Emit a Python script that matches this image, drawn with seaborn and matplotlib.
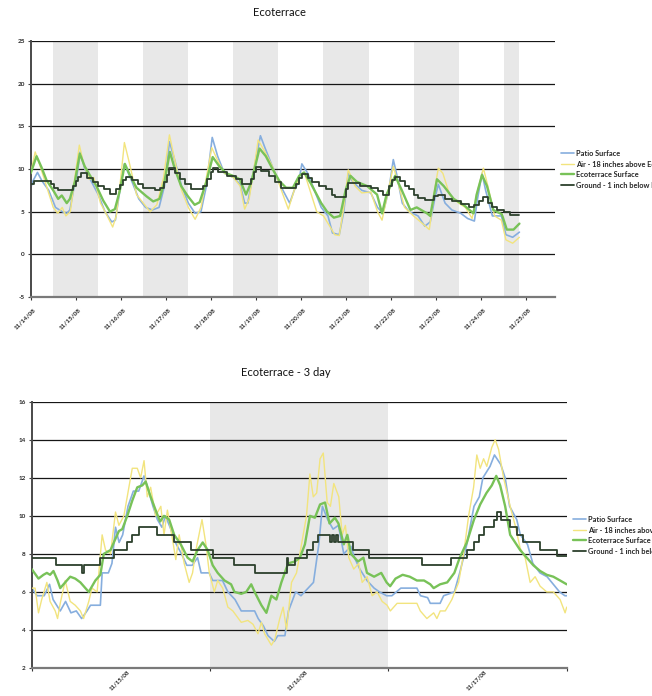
import matplotlib
matplotlib.use("Agg")
import matplotlib.pyplot as plt
import matplotlib.transforms as mtransforms
from matplotlib.lines import Line2D
import seaborn as sns
import pandas as pd

# ---------------------------------------------------------------- data
# Top chart: time in days from the 11/14/08 tick, temperature in deg C
top_patio = [(0, 7.8), (.05, 8.6), (.15, 9.6), (.25, 8.6), (.4, 7.5), (.55, 5.5), (.7, 5.0), (.8, 4.8),
             (.87, 5.2), (.95, 7.5), (1.02, 9.0), (1.1, 12.0), (1.2, 10.0), (1.35, 8.5), (1.5, 7.0),
             (1.65, 5.0), (1.8, 3.8), (1.88, 4.0), (1.98, 7.5), (2.08, 10.6), (2.25, 8.5), (2.4, 6.5),
             (2.55, 5.5), (2.7, 5.2), (2.85, 5.5), (2.97, 8.0), (3.08, 13.2), (3.2, 11.0), (3.35, 8.0),
             (3.5, 6.0), (3.65, 4.8), (3.78, 5.0), (3.9, 8.0), (4.03, 13.7), (4.15, 11.5), (4.3, 9.5),
             (4.5, 9.0), (4.65, 8.2), (4.75, 6.0), (4.82, 6.0), (4.92, 9.0), (5.1, 13.9), (5.2, 12.5),
             (5.35, 10.5), (5.5, 8.5), (5.65, 7.0), (5.75, 6.0), (5.85, 7.5), (5.95, 8.5), (6.02, 10.6),
             (6.15, 9.5), (6.3, 7.5), (6.45, 5.5), (6.6, 4.5), (6.7, 2.5), (6.85, 2.3), (6.95, 5.0),
             (7.05, 9.5), (7.15, 8.5), (7.35, 7.5), (7.55, 7.2), (7.7, 5.5), (7.82, 4.8), (7.95, 7.5),
             (8.05, 11.1), (8.12, 9.5), (8.25, 6.0), (8.4, 5.0), (8.6, 4.5), (8.75, 3.3), (8.87, 3.8),
             (8.97, 6.5), (9.05, 8.2), (9.2, 6.0), (9.35, 5.2), (9.55, 4.8), (9.7, 4.2), (9.85, 3.9),
             (9.92, 6.5), (10.02, 9.5), (10.1, 7.5), (10.25, 4.5), (10.45, 4.5), (10.55, 2.3),
             (10.7, 2.0), (10.85, 2.6)]

top_air = [(0, 9.5), (.1, 12.0), (.2, 10.5), (.35, 8.0), (.5, 5.5), (.6, 4.8), (.7, 5.5), (.78, 4.5),
           (.88, 5.0), (.98, 9.0), (1.08, 12.8), (1.18, 10.5), (1.3, 8.8), (1.4, 9.0), (1.55, 6.0),
           (1.7, 4.5), (1.82, 3.2), (1.9, 4.5), (2.0, 9.0), (2.08, 13.1), (2.2, 10.5), (2.35, 7.0),
           (2.5, 6.0), (2.65, 5.0), (2.8, 5.8), (2.95, 9.0), (3.08, 14.0), (3.2, 11.0), (3.35, 7.5),
           (3.5, 5.5), (3.65, 4.1), (3.78, 5.5), (3.9, 9.0), (4.02, 12.5), (4.15, 11.0), (4.3, 9.5),
           (4.5, 9.0), (4.65, 8.0), (4.75, 5.3), (4.85, 6.5), (4.97, 10.5), (5.05, 13.4), (5.2, 12.0),
           (5.35, 10.5), (5.5, 8.5), (5.6, 7.0), (5.72, 5.3), (5.85, 7.5), (5.98, 9.3), (6.08, 9.5),
           (6.2, 7.5), (6.35, 5.0), (6.5, 4.5), (6.65, 3.2), (6.75, 2.3), (6.85, 2.2), (6.95, 5.5),
           (7.05, 9.9), (7.2, 8.0), (7.35, 7.2), (7.55, 7.3), (7.7, 5.0), (7.8, 4.0), (7.92, 7.0),
           (8.05, 10.3), (8.15, 8.5), (8.3, 5.5), (8.5, 4.5), (8.7, 3.6), (8.85, 2.9), (8.98, 8.0),
           (9.05, 10.1), (9.15, 9.5), (9.3, 7.0), (9.5, 6.0), (9.65, 5.5), (9.8, 4.2), (9.9, 7.0),
           (10.05, 10.1), (10.15, 8.0), (10.3, 4.5), (10.45, 4.0), (10.55, 1.7), (10.7, 1.3),
           (10.85, 2.0)]

top_eco = [(0, 9.5), (.13, 11.5), (.24, 10.2), (.35, 8.7), (.5, 7.5), (.61, 6.5), (.69, 6.9), (.8, 6.0),
           (.87, 6.5), (.98, 8.5), (1.09, 11.8), (1.2, 10.3), (1.31, 9.3), (1.46, 8.0), (1.61, 6.3),
           (1.76, 5.0), (1.87, 5.3), (1.98, 7.5), (2.09, 10.6), (2.2, 9.3), (2.35, 7.8), (2.57, 6.8),
           (2.72, 6.2), (2.86, 6.5), (2.97, 8.5), (3.09, 12.0), (3.2, 10.0), (3.34, 8.0), (3.49, 6.8),
           (3.64, 5.8), (3.75, 6.1), (3.9, 8.5), (4.04, 11.4), (4.19, 10.3), (4.34, 9.5), (4.49, 9.2),
           (4.64, 8.8), (4.78, 7.0), (4.9, 8.5), (5.08, 12.4), (5.22, 11.5), (5.37, 10.0), (5.52, 8.6),
           (5.67, 7.8), (5.82, 7.8), (5.96, 9.2), (6.07, 9.6), (6.22, 8.3), (6.37, 6.8), (6.45, 6.0),
           (6.58, 5.0), (6.73, 4.3), (6.87, 4.5), (6.99, 7.5), (7.1, 9.2), (7.24, 8.5), (7.47, 8.0),
           (7.69, 7.0), (7.8, 4.8), (7.9, 7.0), (8.09, 9.2), (8.24, 7.5), (8.43, 5.2), (8.57, 5.5),
           (8.8, 4.8), (8.87, 4.5), (9.02, 8.8), (9.17, 8.0), (9.39, 6.5), (9.61, 5.8), (9.83, 4.8),
           (9.9, 7.0), (10.02, 9.3), (10.13, 8.0), (10.27, 5.2), (10.46, 4.7), (10.57, 2.9),
           (10.72, 2.9), (10.85, 3.6)]

top_ground = [(0, 8.2), (.08, 8.6), (.45, 8.3), (.52, 7.8), (.6, 7.5), (.95, 8.0), (1.0, 8.6), (1.05, 9.1),
              (1.12, 9.5), (1.25, 9.0), (1.38, 8.5), (1.5, 8.0), (1.62, 7.6), (1.75, 7.1), (1.9, 7.6),
              (1.98, 8.1), (2.05, 8.7), (2.12, 9.1), (2.25, 8.7), (2.38, 8.2), (2.5, 7.8), (2.75, 7.5),
              (2.88, 7.8), (2.95, 8.5), (3.02, 9.3), (3.08, 10.1), (3.2, 9.5), (3.32, 8.8), (3.42, 8.2),
              (3.55, 7.6), (3.82, 8.0), (3.92, 8.8), (4.0, 9.6), (4.05, 10.1), (4.15, 9.6), (4.35, 9.2),
              (4.55, 8.8), (4.7, 8.3), (4.88, 8.8), (4.95, 9.6), (5.0, 10.2), (5.12, 9.8), (5.3, 9.2),
              (5.42, 8.5), (5.55, 7.8), (5.88, 8.3), (5.95, 9.0), (6.02, 9.4), (6.15, 9.0), (6.25, 8.5),
              (6.4, 8.0), (6.55, 7.6), (6.68, 7.0), (6.75, 6.7), (7.0, 7.6), (7.05, 8.4), (7.3, 8.0),
              (7.55, 7.8), (7.7, 7.4), (7.82, 7.0), (7.95, 8.0), (8.02, 8.7), (8.08, 9.1), (8.2, 8.6),
              (8.3, 8.0), (8.4, 7.6), (8.5, 7.0), (8.6, 6.6), (8.75, 6.4), (8.95, 6.8), (9.05, 7.0),
              (9.2, 6.5), (9.35, 6.2), (9.55, 5.9), (9.72, 5.6), (9.85, 5.8), (9.95, 6.3), (10.05, 6.7),
              (10.15, 6.0), (10.25, 5.5), (10.35, 5.2), (10.5, 5.0), (10.65, 4.6), (10.85, 4.6)]

top_dates = ["11/14/08", "11/15/08", "11/16/08", "11/17/08", "11/18/08", "11/19/08",
             "11/20/08", "11/21/08", "11/22/08", "11/23/08", "11/24/08", "11/25/08"]
top_night = [(0.5, 1.5), (2.5, 3.5), (4.5, 5.5), (6.5, 7.5), (8.5, 9.5), (10.5, 10.85)]

# Bottom chart: three days starting 11/15/08
day_patio = [(0, 6.2), (.03, 5.8), (.07, 5.8), (.10, 6.4), (.12, 5.6), (.16, 5.0), (.19, 5.5), (.22, 4.9),
             (.25, 5.0), (.28, 4.6), (.31, 5.0), (.33, 5.3), (.385, 5.3), (.395, 7.0), (.43, 7.0),
             (.45, 7.5), (.47, 9.4), (.49, 8.6), (.51, 9.0), (.54, 10.5), (.57, 11.3), (.60, 11.3),
             (.63, 12.1), (.65, 11.5), (.68, 10.5), (.705, 9.8), (.73, 9.4), (.75, 10.0), (.78, 9.3),
             (.80, 8.7), (.84, 8.0), (.87, 7.4), (.90, 7.4), (.93, 7.8), (.95, 7.0), (.995, 7.0),
             (1.015, 6.6), (1.07, 6.6), (1.10, 6.0), (1.14, 5.6), (1.175, 5.0), (1.25, 5.0), (1.27, 4.6),
             (1.30, 4.2), (1.325, 3.7), (1.36, 3.4), (1.38, 3.7), (1.42, 3.7), (1.44, 5.0), (1.48, 6.0),
             (1.51, 5.8), (1.55, 6.2), (1.58, 6.5), (1.61, 8.5), (1.63, 10.5), (1.66, 9.8), (1.69, 9.3),
             (1.72, 9.5), (1.75, 8.0), (1.79, 8.4), (1.81, 7.8), (1.84, 7.2), (1.88, 6.6), (1.92, 6.2),
             (1.95, 6.0), (1.99, 5.8), (2.02, 5.8), (2.07, 6.2), (2.16, 6.2), (2.18, 5.8), (2.22, 5.7),
             (2.235, 5.4), (2.29, 5.4), (2.31, 5.8), (2.37, 6.0), (2.40, 7.0), (2.44, 8.5), (2.48, 10.5),
             (2.51, 11.0), (2.53, 12.0), (2.57, 12.6), (2.595, 13.2), (2.63, 12.7), (2.655, 12.0),
             (2.68, 10.5), (2.72, 9.8), (2.74, 9.0), (2.78, 8.5), (2.81, 7.5), (2.85, 7.0), (2.89, 6.8),
             (2.925, 6.4), (2.96, 6.0), (2.99, 5.8), (3.0, 5.8)]

day_air = [(0, 6.2), (.019, 6.2), (.038, 4.9), (.056, 5.6), (.085, 6.5), (.103, 5.5), (.132, 5.0),
           (.145, 4.6), (.16, 5.4), (.188, 6.6), (.216, 5.5), (.244, 5.3), (.273, 5.0), (.291, 4.6),
           (.32, 5.5), (.338, 6.2), (.367, 6.0), (.395, 9.0), (.414, 8.2), (.442, 8.0), (.47, 10.2),
           (.489, 9.5), (.517, 10.0), (.545, 11.5), (.564, 12.5), (.592, 12.5), (.611, 12.0), (.63, 12.9),
           (.648, 11.0), (.667, 11.5), (.695, 10.0), (.724, 10.5), (.742, 9.0), (.761, 10.3), (.789, 8.8),
           (.808, 7.7), (.827, 9.0), (.855, 7.5), (.883, 6.5), (.902, 7.0), (.921, 8.2), (.955, 9.8),
           (.977, 8.5), (.996, 7.0), (1.024, 6.0), (1.043, 6.6), (1.071, 6.2), (1.1, 5.2), (1.128, 5.0),
           (1.175, 4.4), (1.212, 4.5), (1.241, 4.3), (1.269, 3.8), (1.288, 4.4), (1.306, 3.8),
           (1.344, 3.2), (1.363, 3.5), (1.391, 4.6), (1.41, 5.2), (1.429, 4.0), (1.457, 6.5),
           (1.485, 7.0), (1.513, 8.5), (1.541, 10.0), (1.56, 12.2), (1.579, 11.0), (1.598, 11.2),
           (1.617, 13.0), (1.635, 13.3), (1.657, 10.7), (1.675, 10.5), (1.694, 11.7), (1.722, 11.0),
           (1.741, 9.0), (1.759, 9.5), (1.778, 7.8), (1.806, 7.2), (1.834, 7.5), (1.853, 6.5),
           (1.881, 6.8), (1.909, 5.8), (1.937, 6.0), (1.965, 5.5), (1.993, 5.3), (2.011, 5.0),
           (2.049, 5.4), (2.16, 5.4), (2.179, 5.0), (2.216, 4.6), (2.254, 4.9), (2.272, 4.6),
           (2.291, 5.0), (2.319, 5.0), (2.356, 5.6), (2.394, 6.5), (2.422, 8.0), (2.45, 10.0),
           (2.478, 11.5), (2.496, 13.2), (2.515, 12.5), (2.534, 13.0), (2.552, 12.6), (2.58, 13.6),
           (2.599, 14.0), (2.618, 13.5), (2.646, 12.0), (2.683, 10.5), (2.711, 9.5), (2.739, 8.3),
           (2.767, 7.8), (2.795, 6.5), (2.823, 6.8), (2.851, 6.3), (2.888, 6.0), (2.925, 6.0),
           (2.963, 5.6), (2.991, 4.9), (3.0, 5.2)]

day_eco = [(0, 7.2), (.038, 6.7), (.066, 6.9), (.085, 7.0), (.103, 6.9), (.122, 7.1), (.145, 6.6),
           (.16, 6.2), (.197, 6.6), (.216, 6.8), (.244, 6.7), (.273, 6.5), (.301, 6.2), (.32, 6.0),
           (.357, 6.6), (.385, 6.9), (.404, 8.0), (.442, 8.2), (.47, 8.8), (.489, 9.2), (.508, 9.3),
           (.536, 10.0), (.564, 10.8), (.592, 11.5), (.62, 11.6), (.639, 11.8), (.667, 11.0),
           (.695, 10.3), (.72, 9.7), (.742, 10.0), (.771, 9.8), (.799, 9.0), (.836, 8.5), (.874, 7.8),
           (.902, 7.6), (.93, 8.2), (.959, 8.6), (.987, 8.2), (1.015, 7.4), (1.043, 7.0), (1.081, 6.6),
           (1.118, 6.4), (1.137, 6.0), (1.175, 5.9), (1.203, 6.0), (1.231, 6.4), (1.25, 6.0),
           (1.288, 5.3), (1.316, 4.9), (1.344, 5.8), (1.372, 5.6), (1.4, 6.5), (1.438, 7.5),
           (1.476, 7.6), (1.504, 7.8), (1.532, 8.5), (1.56, 10.0), (1.588, 9.9), (1.617, 10.6),
           (1.645, 10.7), (1.67, 9.6), (1.70, 9.9), (1.72, 9.6), (1.75, 8.5), (1.77, 9.0), (1.79, 8.0),
           (1.83, 7.6), (1.86, 7.8), (1.88, 7.0), (1.92, 6.8), (1.96, 7.0), (1.99, 6.5), (2.01, 6.3),
           (2.04, 6.7), (2.08, 6.9), (2.12, 6.8), (2.16, 6.6), (2.2, 6.6), (2.235, 6.4), (2.254, 6.2),
           (2.29, 6.4), (2.33, 6.5), (2.37, 7.0), (2.40, 7.8), (2.44, 8.6), (2.48, 9.8), (2.515, 10.6),
           (2.55, 11.2), (2.58, 11.6), (2.605, 12.1), (2.627, 11.6), (2.655, 10.5), (2.683, 9.0),
           (2.711, 8.6), (2.739, 8.2), (2.776, 7.8), (2.813, 7.4), (2.851, 7.1), (2.888, 6.9),
           (2.925, 6.8), (2.963, 6.6), (3.0, 6.4)]

day_ground = [(0, 7.8), (.138, 7.4), (.28, 7.0), (.295, 7.4), (.385, 7.8), (.46, 8.2), (.536, 8.6),
              (.564, 9.0), (.601, 9.4), (.705, 9.0), (.799, 8.6), (.893, 8.2), (1.015, 7.8), (1.137, 7.4),
              (1.25, 7.0), (1.429, 7.8), (1.44, 7.4), (1.476, 7.8), (1.541, 8.2), (1.579, 8.6),
              (1.607, 9.0), (1.675, 8.6), (1.685, 9.0), (1.695, 8.6), (1.705, 9.0), (1.72, 8.6),
              (1.80, 8.2), (1.89, 7.8), (2.19, 7.4), (2.35, 7.8), (2.44, 8.2), (2.478, 8.6),
              (2.506, 9.0), (2.534, 9.4), (2.59, 9.8), (2.61, 10.2), (2.63, 9.8), (2.683, 9.4),
              (2.72, 9.0), (2.757, 8.6), (2.85, 8.2), (2.944, 7.9), (3.0, 7.9)]

day_dates = ["11/15/08", "11/16/08", "11/17/08"]
day_night = [(1.0, 2.0)]

labels = ["Patio Surface", "Air - 18 inches above Ecoterrace",
          "Ecoterrace Surface", "Ground - 1 inch below Ecoterrace"]
colors = ["#86aede", "#f2e47e", "#78c258", "#2c402c"]
widths = [1.2, 1.0, 1.7, 1.3]

# ---------------------------------------------------------------- style
sns.set_theme(style="white")
plt.rcParams["font.family"] = ["Lato", "DejaVu Sans"]
tick_font = {"family": ["Lato", "DejaVu Sans"], "weight": "bold", "size": 4.6}

fig = plt.figure(figsize=(6.52, 6.96), dpi=100)
W, H = 652, 696


def frame(pairs, name):
    df = pd.DataFrame(pairs, columns=["x", "temp"])
    df["series"] = name
    return df


def draw_panel(ax, series, nights, ylim, yticks):
    for s, e in nights:
        ax.axvspan(s, e, color="#e8e8e8", lw=0, zorder=0)
    for i, (pairs, name) in enumerate(zip(series, labels)):
        df = frame(pairs, name)
        extra = {"drawstyle": "steps-post"} if i == 3 else {}
        sns.lineplot(data=df, x="x", y="temp", ax=ax, color=colors[i], lw=widths[i],
                     estimator=None, sort=False, legend=False, zorder=2 + i, **extra)
    ax.set_ylim(*ylim)
    ax.set_yticks(yticks)
    ax.set_yticklabels([str(v) for v in yticks], fontdict=tick_font)
    ax.set_xlabel("")
    ax.set_ylabel("")
    ax.set_axisbelow(True)
    ax.yaxis.grid(True, color="#161616", lw=0.9)
    ax.xaxis.grid(False)
    for side in ("top", "right"):
        ax.spines[side].set_visible(False)
    ax.spines["left"].set_color("#4a4a4a")
    ax.spines["left"].set_linewidth(1.4)
    ax.spines["bottom"].set_color("#7a7a7a")
    ax.spines["bottom"].set_linewidth(1.6)
    ax.tick_params(axis="y", which="major", left=True, length=2.2, width=0.8, color="#444", pad=2)


def shift_labels(ax, which_minor, dx_px, dy_px):
    off = mtransforms.ScaledTranslation(dx_px / 100, -dy_px / 100, fig.dpi_scale_trans)
    lbls = ax.xaxis.get_minorticklabels() if which_minor else ax.xaxis.get_majorticklabels()
    for lab in lbls:
        lab.set_transform(lab.get_transform() + off)


# ---------------------------------------------------------------- top panel
ax1 = fig.add_axes([30.7 / W, 1 - 297 / H, (555 - 30.7) / W, (297 - 41) / H])
draw_panel(ax1, [top_patio, top_air, top_eco, top_ground], top_night, (-5, 25), [-5, 0, 5, 10, 15, 20, 25])
ax1.set_xlim(0, 11.64)
ax1.set_xticks(range(len(top_dates)))
ax1.set_xticklabels(top_dates, fontdict=tick_font, rotation=45, ha="right", va="center",
                    rotation_mode="anchor")
ax1.tick_params(axis="x", which="major", bottom=True, length=2.5, width=0.8, color="#333", pad=3)
shift_labels(ax1, False, 4, 4)

# ---------------------------------------------------------------- bottom panel
ax2 = fig.add_axes([31.7 / W, 1 - 668 / H, (566.7 - 31.7) / W, (668 - 401.7) / H])
draw_panel(ax2, [day_patio, day_air, day_eco, day_ground], day_night, (2, 16), [2, 4, 6, 8, 10, 12, 14, 16])
ax2.set_xlim(0, 3)
ax2.set_xticks([0, 1, 2, 3])
ax2.set_xticklabels([])
ax2.set_xticks([0.5, 1.5, 2.5], minor=True)
ax2.set_xticklabels(day_dates, minor=True, fontdict={**tick_font, "size": 4.3}, rotation=45,
                    ha="right", va="center", rotation_mode="anchor")
ax2.tick_params(axis="x", which="major", bottom=True, length=2.5, width=0.8, color="#333")
ax2.tick_params(axis="x", which="minor", bottom=True, length=0, pad=1.5)
shift_labels(ax2, True, 8, 1)

# ---------------------------------------------------------------- titles and legends
fig.text(279 / W, 1 - 12 / H, "Ecoterrace", ha="center", va="center", fontsize=8, color="#111")
fig.text(285.5 / W, 1 - 373 / H, "Ecoterrace - 3 day", ha="center", va="center", fontsize=8, color="#111")

handles = [Line2D([0], [0], color=c, lw=w) for c, w in zip(colors, widths)]
leg_font = {"family": ["Lato", "DejaVu Sans"], "weight": "bold", "size": 5.3}
for x0, y0 in [(561, 150), (573, 516)]:
    fig.legend(handles, labels, loc="upper left", bbox_to_anchor=(x0 / W, 1 - y0 / H),
               frameon=False, prop=leg_font, handlelength=1.8, handletextpad=0.3,
               labelspacing=0.48, borderpad=0, borderaxespad=0)

fig.savefig("out.png", dpi=100)
